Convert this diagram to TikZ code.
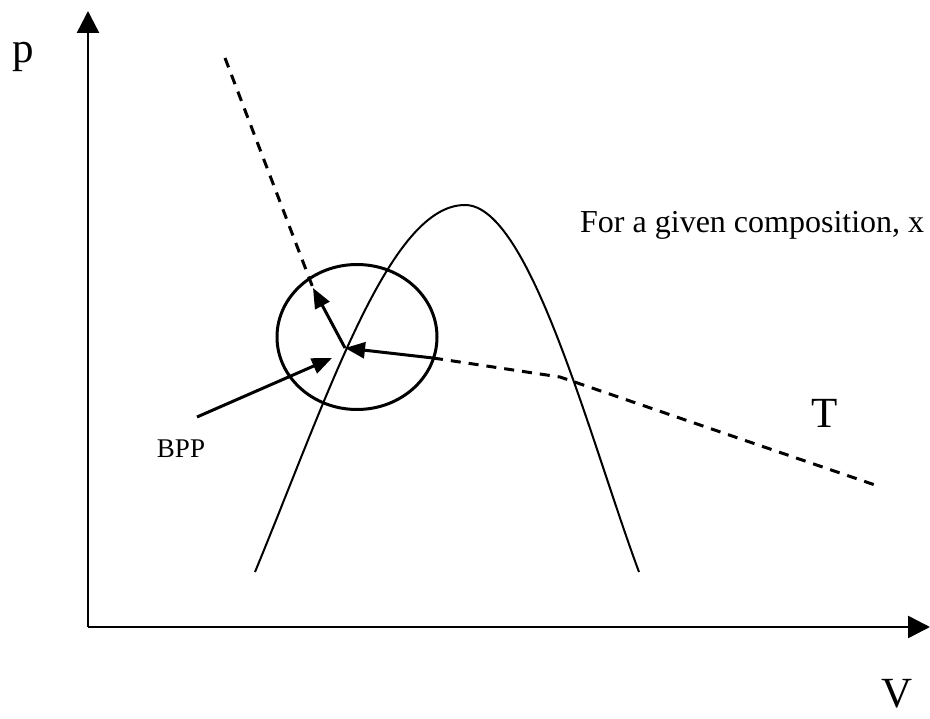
\documentclass[tikz,border=0pt]{standalone}
\usepackage{fontspec}
\setmainfont{Liberation Serif}
\usetikzlibrary{arrows.meta,shapes.geometric}
\tikzset{
  axis-line/.style={line width=2.5pt,-{Triangle[length=22pt,width=22pt]}},
  dome-line/.style={line width=2pt},
  dash-line/.style={line width=3pt,dash pattern=on 10pt off 8pt},
  ring-line/.style={draw,line width=3pt,ellipse,inner sep=0pt},
  arrow/.style={line width=3pt,-{Triangle[length=20pt,width=16pt]}},
  label-big/.style={inner sep=0pt,anchor=base,font=\fontsize{43}{50}\selectfont},
  label-note/.style={inner sep=0pt,anchor=base west,font=\fontsize{32}{38}\selectfont},
  label-small/.style={inner sep=0pt,anchor=base,font=\fontsize{27}{32}\selectfont},
}
\begin{document}
\begin{tikzpicture}[x=1pt,y=-1pt]
  \useasboundingbox (0,0) rectangle (930,719);
  % axes
  \coordinate (origin) at (88,627);
  \coordinate (p-top) at (88,11);
  \coordinate (v-end) at (930,627);
  \draw[axis-line] (origin) -- (p-top);
  \draw[axis-line] (origin) -- (v-end);
  \node[label-big] (p-label) at (23,63) {p};
  \node[label-big] (v-label) at (897,707) {V};
  % two-phase dome
  \coordinate (dome-left) at (255,572);
  \coordinate (dome-top) at (465,205);
  \coordinate (dome-right) at (639,572);
  \draw[dome-line] (dome-left) .. controls (330,390) and (390,205) .. (dome-top)
    .. controls (530,205) and (590,440) .. (dome-right);
  % isotherm
  \coordinate (bpp) at (345,348);
  \coordinate (iso-top) at (225,58);
  \coordinate (iso-up) at (313,288);
  \coordinate (iso-in) at (433,358);
  \coordinate (iso-kink) at (560,377);
  \coordinate (iso-end) at (875,485);
  \draw[dash-line] (iso-top) -- (iso-up);
  \draw[dash-line] (iso-in) -- (iso-kink) -- (iso-end);
  \node[label-big] (t-label) at (824.5,428) {T};
  % close-up round the bubble point
  \node[ring-line,minimum width=160pt,minimum height=145pt] (ring) at (357,337) {};
  \draw[arrow] (bpp) -- (iso-up);
  \draw[arrow] (iso-in) -- (bpp);
  \coordinate (bpp-tail) at (197,417);
  \coordinate (bpp-head) at (332,358);
  \draw[arrow] (bpp-tail) -- (bpp-head);
  \node[label-small] (bpp-label) at (181,457) {BPP};
  \node[label-note] (note) at (580,233) {For a given composition, x};
\end{tikzpicture}
\end{document}
